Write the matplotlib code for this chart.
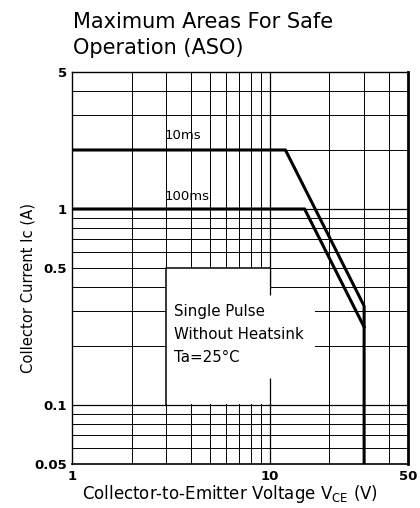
import matplotlib
matplotlib.use("Agg")
import matplotlib.pyplot as plt
from matplotlib.patches import Polygon

plt.rcParams["font.family"] = ["DejaVu Sans"]

# safe operating area curves (single pulse)
v_10ms = [1, 12, 30, 30]
i_10ms = [2, 2, 0.32, 0.05]
v_100ms = [1, 15, 30]
i_100ms = [1, 1, 0.25]

x_grid = [2, 3, 4, 5, 6, 7, 8, 9, 10, 20, 30, 40]
y_grid = [0.06, 0.07, 0.08, 0.09, 0.1, 0.2, 0.3, 0.4, 0.5,
          0.6, 0.7, 0.8, 0.9, 1, 2, 3, 4]
x_ticks = [1, 10, 50]
x_ticklabels = ["1", "10", "50"]
y_ticks = [0.05, 0.1, 0.5, 1, 5]
y_ticklabels = ["0.05", "0.1", "0.5", "1", "5"]
note_lines = ["Single Pulse", "Without Heatsink", "Ta=25°C"]

fig = plt.figure(figsize=(4.2, 5.08), dpi=100)
ax = fig.add_axes([0.1714, 0.0866, 0.80, 0.7717])
ax.set_xscale("log")
ax.set_yscale("log")
ax.set_xlim(1, 50)
ax.set_ylim(0.05, 5)

# grid
for x in x_grid:
    ax.axvline(x, color="black", lw=0.9 if x == 10 else 0.7, zorder=1)
for y in y_grid:
    ax.axhline(y, color="black", lw=0.9 if y in (0.1, 1) else 0.7, zorder=1)

# blank area behind the note
mask = Polygon([(3, 0.1), (3, 0.5), (10, 0.5), (10, 0.39), (17, 0.39),
                (17, 0.101), (3, 0.101)], closed=True,
               facecolor="white", edgecolor="none", zorder=2)
ax.add_patch(mask)
ax.vlines(20, 0.1, 0.4, color="black", lw=0.7, linestyles=(0, (6, 2)), zorder=3)
ax.vlines([10, 10], [0.365, 0.1], [0.5, 0.137], color="black", lw=0.9, zorder=3)
ax.plot([3, 3, 10], [0.1, 0.5, 0.5], color="black", lw=1.1, zorder=3)

# curves
ax.plot(v_10ms, i_10ms, color="black", lw=2.2, zorder=4,
        solid_joinstyle="miter")
ax.plot(v_100ms, i_100ms, color="black", lw=2.2, zorder=4,
        solid_joinstyle="miter")
ax.text(2.95, 2.27, "10ms", fontsize=9.5, ha="left", va="baseline", zorder=5)
ax.text(2.95, 1.11, "100ms", fontsize=9.5, ha="left", va="baseline", zorder=5)

for k, line in enumerate(note_lines):
    ax.text(3.27, 0.284 / (1.31 ** k), line, fontsize=10.8, ha="left",
            va="baseline", zorder=5)

ax.set_xticks(x_ticks)
ax.set_xticklabels(x_ticklabels, fontsize=9.5, fontweight="bold")
ax.set_yticks(y_ticks)
ax.set_yticklabels(y_ticklabels, fontsize=9.5, fontweight="bold")
ax.minorticks_off()
ax.tick_params(axis="x", length=0, pad=4)
ax.tick_params(axis="y", length=0, pad=3.5)

ax.spines["right"].set_linewidth(2.0)
ax.spines["left"].set_linewidth(1.0)
ax.spines["top"].set_linewidth(1.0)
ax.spines["bottom"].set_linewidth(1.2)

fig.text(230 / 420, 1 - 499 / 508,
         "Collector-to-Emitter Voltage V$_{\\mathrm{CE}}$ (V)",
         fontsize=12, ha="center", va="baseline")
fig.text(28 / 420, 1 - 288 / 508, "Collector Current Ic (A)",
         fontsize=10.6, rotation=90, ha="center", va="center")

fig.text(73 / 420, 1 - 28 / 508, "Maximum Areas For Safe",
         fontsize=15, ha="left", va="baseline")
fig.text(73 / 420, 1 - 54 / 508, "Operation (ASO)",
         fontsize=15, ha="left", va="baseline")

fig.savefig("out.png", dpi=100)
